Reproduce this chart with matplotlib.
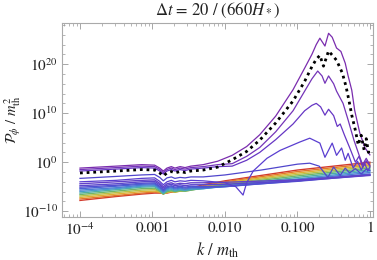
import numpy as np
import matplotlib
matplotlib.use("Agg")
import matplotlib.pyplot as plt
from matplotlib.ticker import FixedLocator, NullFormatter

plt.rcParams['font.family'] = ['STIXGeneral', 'DejaVu Serif']
plt.rcParams['mathtext.fontset'] = 'stix'

# log10(k) points shared by all spectra at low k (up to the dip and its ripples)
low_logk = [-4, -3.5, -3.15, -2.97, -2.9, -2.85, -2.8, -2.74, -2.69, -2.62, -2.55, -2.47, -2.3]

# early-time spectra, red (earliest) to blue: log10(P) at low_logk and then at k = 0.01, 0.1, 1
band_tail_logk = [-2, -1, 0]
band_logp = [
    [-7.8, -7.0, -6.5, -6.3, -6.3, -6.4, -6.3, -6.1, -6.0, -5.8, -5.6, -5.3, -4.6, -3.8, -1.6, 0.0],
    [-7.5, -6.8, -6.3, -6.1, -6.2, -6.4, -6.2, -6.0, -6.0, -5.9, -5.7, -5.5, -4.8, -4.0, -1.9, -0.3],
    [-7.2, -6.5, -6.0, -5.9, -6.1, -6.4, -6.2, -6.0, -6.1, -5.9, -5.8, -5.6, -5.0, -4.2, -2.2, -0.6],
    [-6.9, -6.2, -5.7, -5.6, -6.0, -6.5, -6.1, -5.9, -6.1, -5.9, -5.9, -5.7, -5.2, -4.4, -2.5, -0.9],
    [-6.6, -5.9, -5.4, -5.3, -5.9, -6.5, -6.0, -5.8, -6.0, -5.8, -5.9, -5.7, -5.3, -4.6, -2.8, -1.2],
    [-6.3, -5.6, -5.1, -5.0, -5.7, -6.4, -5.8, -5.6, -5.9, -5.7, -5.8, -5.6, -5.4, -4.8, -3.1, -1.5],
    [-6.0, -5.4, -4.9, -4.8, -5.5, -6.2, -5.6, -5.4, -5.7, -5.5, -5.7, -5.5, -5.4, -4.9, -3.4, -1.8],
    [-5.7, -5.2, -4.7, -4.6, -5.3, -6.0, -5.4, -5.2, -5.5, -5.3, -5.5, -5.3, -5.3, -5.0, -3.6, -2.1],
    [-5.4, -4.9, -4.5, -4.4, -5.1, -5.8, -5.2, -5.0, -5.3, -5.1, -5.3, -5.1, -5.2, -5.0, -3.8, -2.4],
    [-5.1, -4.7, -4.3, -4.2, -4.9, -5.6, -5.0, -4.8, -5.1, -4.9, -5.1, -4.9, -5.0, -4.9, -3.9, -2.6],
    [-4.8, -4.4, -4.0, -3.9, -4.6, -5.3, -4.7, -4.5, -4.8, -4.6, -4.8, -4.6, -4.6, -4.5, -3.8, -2.7],
    [-4.4, -4.0, -3.7, -3.6, -4.3, -5.0, -4.4, -4.2, -4.5, -4.3, -4.4, -4.2, -4.2, -4.1, -3.6, -2.6],
]
band_colors = ['#d23a2c', '#e2762c', '#dfae34', '#b7c046', '#6fb56a', '#4fb0a0',
               '#4b9ccc', '#4a7fd2', '#4a62d4', '#5150d0', '#5a46cc', '#6242c8']

# later spectra that grow: log10(P) at low_logk, then (log10 k, log10 P) beyond
c0_low = [-3.3, -2.9, -2.6, -2.5, -3.1, -3.8, -3.2, -3.0, -3.3, -3.1, -3.2, -3.0, -3.0]
c0_logk = [-2.0, -1.5, -1.0, -0.83, -0.7, -0.58, -0.5, -0.41, -0.34, -0.28, -0.2, -0.12, -0.05, 0]
c0_logp = [-2.6, -1.6, -0.4, -0.2, -0.8, -3.1, -1.0, -2.7, -1.2, -2.2, -1.3, -2.4, -1.4, -1.7]

c5_low = [-4.0, -3.7, -3.3, -3.2, -3.9, -4.6, -4.0, -3.7, -4.0, -3.8, -3.9, -3.7, -3.8]
c5_logk = [-2.0, -1.85, -1.75, -1.70, -1.61, -1.42, -1.24, -0.97, -0.83, -0.69, -0.62, -0.52,
           -0.46, -0.39, -0.34, -0.30, -0.23, -0.17, -0.12, -0.07, -0.03, 0]
c5_logp = [-4.2, -5.0, -6.7, -4.2, -1.8, 0.8, 2.4, 4.1, 4.9, 3.9, 1.0, 3.9,
           1.4, 2.9, 0.4, 1.8, -1.2, 0.2, -1.6, -0.3, -1.8, -1.0]

c12_low = [-1.8, -1.4, -1.1, -1.2, -1.8, -2.4, -1.8, -1.5, -1.8, -1.5, -1.7, -1.4, -1.2]
c12_logk = [-2.1, -1.9, -1.7, -1.52, -1.3, -1.06, -0.9, -0.8, -0.74, -0.68, -0.62, -0.57, -0.5,
            -0.45, -0.41, -0.35, -0.28, -0.2, -0.15, -0.1, -0.05, 0]
c12_logp = [-0.9, -0.8, 0.4, 2.0, 4.6, 7.8, 10.5, 11.6, 12.0, 11.3, 9.6, 10.8, 9.5,
            7.3, 7.8, 5.5, 3.0, 0.0, 1.2, -1.0, 0.3, -0.8]

c18_low = [-1.5, -1.1, -0.8, -0.9, -1.5, -2.1, -1.5, -1.2, -1.5, -1.2, -1.4, -1.1, -0.9]
c18_logk = [-2.1, -1.9, -1.7, -1.52, -1.3, -1.06, -0.9, -0.8, -0.72, -0.66, -0.62, -0.57, -0.5,
            -0.46, -0.37, -0.3, -0.22, -0.15, -0.1, -0.05, 0]
c18_logp = [-0.5, -0.3, 1.2, 3.0, 6.2, 10.5, 14.5, 17.0, 18.6, 17.6, 16.1, 17.6, 16.0,
            14.5, 12.0, 8.6, 4.5, 1.5, -0.5, 0.8, -0.6]

c26_low = [-1.2, -0.8, -0.5, -0.6, -1.2, -1.8, -1.2, -0.9, -1.2, -0.9, -1.1, -0.8, -0.5]
c26_logk = [-2.1, -1.9, -1.7, -1.52, -1.3, -1.06, -0.9, -0.8, -0.74, -0.69, -0.62, -0.57, -0.52,
            -0.46, -0.4, -0.34, -0.3, -0.25, -0.21, -0.14, -0.07, 0]
c26_logp = [0.2, 1.4, 3.2, 5.6, 9.4, 14.8, 19.2, 22.0, 24.0, 25.3, 23.7, 26.3, 25.5,
            23.3, 22.6, 20.2, 17.6, 14.7, 10.6, 6.0, 3.0, 1.5]

# black dotted reference spectrum
ref_low = [-2.2, -1.8, -1.5, -1.6, -2.2, -2.8, -2.2, -1.9, -2.2, -1.9, -2.1, -1.8, -1.6]
ref_logk = [-2.1, -1.9, -1.7, -1.52, -1.3, -1.06, -0.9, -0.8, -0.74, -0.69, -0.64, -0.57, -0.5,
            -0.46, -0.38, -0.33, -0.29, -0.25, -0.2, -0.16, -0.12, -0.08, -0.05, -0.02, 0]
ref_logp = [-1.0, 0.5, 2.2, 4.5, 8.0, 12.5, 16.5, 19.5, 21.0, 21.8, 19.6, 22.7, 21.5,
            20.8, 18.2, 15.5, 12.7, 9.6, 6.5, 3.5, 5.5, 2.5, 4.8, 2.0, 2.5]

grown = [
    (c0_low, c0_logk, c0_logp, '#5046cc'),
    (c5_low, c5_logk, c5_logp, '#5a3ed0'),
    (c12_low, c12_logk, c12_logp, '#6636c4'),
    (c18_low, c18_logk, c18_logp, '#7434b8'),
    (c26_low, c26_logk, c26_logp, '#7a2cae'),
]

fig = plt.figure(figsize=(3.77, 2.6), dpi=100)
ax = fig.add_axes([0.1645, 0.165, 0.8245, 0.7465])

band_k = 10.0 ** np.array(low_logk + band_tail_logk)
for vals, col in zip(band_logp, band_colors):
    ax.plot(band_k, 10.0 ** np.array(vals), color=col, lw=1.0)

for low, lk, lp, col in grown:
    k = 10.0 ** np.array(low_logk + lk)
    ax.plot(k, 10.0 ** np.array(low + lp), color=col, lw=0.9)

ax.plot(10.0 ** np.array(low_logk + ref_logk), 10.0 ** np.array(ref_low + ref_logp),
        color='black', lw=2.0, linestyle=(0, (1, 1.4)))

ax.set_xscale('log')
ax.set_yscale('log')
ax.set_xlim(10 ** -4.248, 10 ** 0.041)
ax.set_ylim(10 ** -11.2, 10 ** 28.4)

ax.xaxis.set_major_locator(FixedLocator([1e-4, 1e-3, 1e-2, 1e-1, 1]))
ax.set_xticklabels([r'$10^{-4}$', '0.001', '0.010', '0.100', '1'])
minor_x = [m * 10.0 ** e for e in range(-5, 1) for m in range(2, 10)]
ax.xaxis.set_minor_locator(FixedLocator(minor_x))
ax.xaxis.set_minor_formatter(NullFormatter())

ax.yaxis.set_major_locator(FixedLocator([1e-10, 1e0, 1e10, 1e20]))
ax.set_yticklabels([r'$10^{-10}$', r'$10^{0}$', r'$10^{10}$', r'$10^{20}$'])
ax.yaxis.set_minor_locator(FixedLocator([10.0 ** e for e in range(-12, 30, 2)]))
ax.yaxis.set_minor_formatter(NullFormatter())

ax.tick_params(which='both', direction='in', top=True, right=True, colors='#999999',
               labelcolor='#222222', labelsize=11)
ax.tick_params(which='major', length=4, width=0.6, pad=3)
ax.tick_params(which='minor', length=2, width=0.5)
for sp in ax.spines.values():
    sp.set_color('#aaaaaa')
    sp.set_linewidth(0.8)

ax.set_title(r'$\Delta t$ = 20 / (660$H_*$)', fontsize=12, color='#222222', pad=6)
ax.set_xlabel(r'$k\ /\ m_{\mathrm{th}}$', fontsize=12, color='#222222', labelpad=2)
ax.set_ylabel(r'$\mathcal{P}_\phi\ /\ m_{\mathrm{th}}^{\,2}$', fontsize=10.5, color='#222222')
ax.yaxis.set_label_coords(-0.125, 0.5)

fig.savefig('out.png', dpi=100)
